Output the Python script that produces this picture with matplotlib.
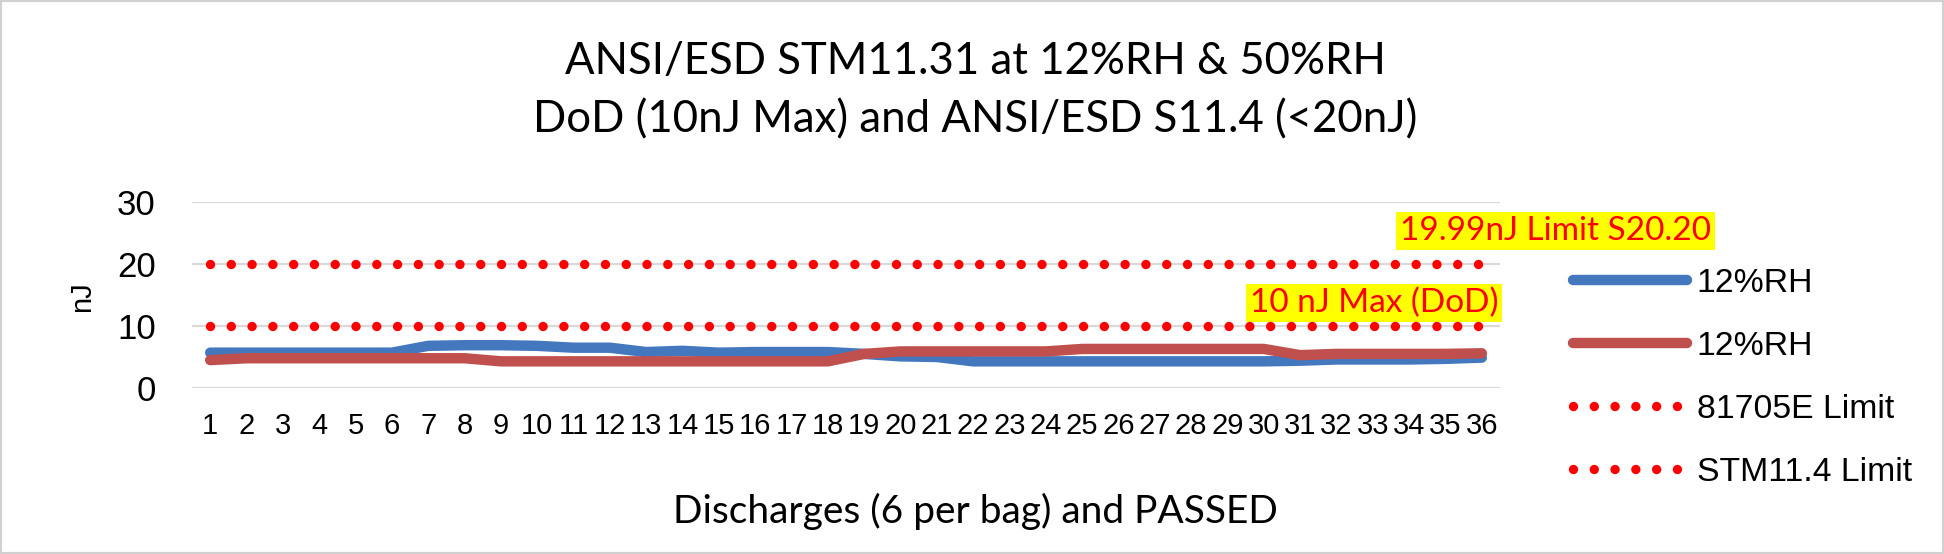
import matplotlib
matplotlib.use("Agg")
import matplotlib.pyplot as plt
from matplotlib.patches import Rectangle

# ────────────────────────────────────────────────
# Data
# ────────────────────────────────────────────────
discharges = list(range(1, 37))

rh_a = [5.7, 5.7, 5.7, 5.7, 5.7, 5.7, 6.8, 6.9, 6.9, 6.8, 6.5, 6.5,
        5.8, 6.0, 5.7, 5.8, 5.8, 5.8, 5.5, 5.1, 5.0, 4.3, 4.3, 4.3,
        4.3, 4.3, 4.3, 4.3, 4.3, 4.3, 4.4, 4.6, 4.6, 4.6, 4.7, 4.9]
rh_b = [4.5, 4.8, 4.8, 4.8, 4.8, 4.8, 4.8, 4.8, 4.3, 4.3, 4.3, 4.3,
        4.3, 4.3, 4.3, 4.3, 4.3, 4.3, 5.5, 5.9, 5.9, 5.9, 5.9, 5.9,
        6.3, 6.3, 6.3, 6.3, 6.3, 6.3, 5.3, 5.5, 5.5, 5.5, 5.5, 5.6]

limit_81705e = 20
limit_stm114 = 10

series_labels = ["12%RH", "12%RH", "81705E Limit", "STM11.4 Limit"]
y_ticks = [0, 10, 20, 30]

title_1 = "ANSI/ESD STM11.31 at 12%RH & 50%RH"
title_2 = "DoD (10nJ Max) and ANSI/ESD S11.4 (<20nJ)"
x_label = "Discharges (6 per bag) and PASSED"
note_20 = "19.99nJ Limit S20.20"
note_10 = "10 nJ Max (DoD)"

# ────────────────────────────────────────────────
# Plotting
# ────────────────────────────────────────────────
W, H = 1944, 554
fig = plt.figure(figsize=(W / 100, H / 100), dpi=100)
ax = fig.add_axes([192 / W, 1 - 388 / H, (1500 - 192) / W, (388 - 202) / H])

arial = "Liberation Sans"
calibri = "Lato"

dots = (0, (0.001, 2.2))

ax.plot(discharges, rh_a, color="#4478BE", lw=7.5, solid_capstyle="round",
        solid_joinstyle="round", label=series_labels[0], zorder=3)
ax.plot(discharges, rh_b, color="#C0504D", lw=7.5, solid_capstyle="round",
        solid_joinstyle="round", label=series_labels[1], zorder=4)
ax.plot(discharges, [limit_81705e] * len(discharges), color="#FF0000",
        lw=6.8, linestyle=dots, dash_capstyle="round", label=series_labels[2], zorder=5)
ax.plot(discharges, [limit_stm114] * len(discharges), color="#FF0000",
        lw=6.8, linestyle=dots, dash_capstyle="round", label=series_labels[3], zorder=5)

ax.set_xlim(0.5, 36.5)
ax.set_ylim(0, 30)
ax.set_yticks(y_ticks)
ax.set_xticks(discharges)
ax.grid(axis="y", color="#D9D9D9", lw=1.6)
ax.set_axisbelow(True)
for s in ax.spines.values():
    s.set_visible(False)
ax.tick_params(axis="y", length=0, pad=26, labelsize=25)
ax.tick_params(axis="x", length=0, pad=17, labelsize=21)
for lab in ax.get_xticklabels() + ax.get_yticklabels():
    lab.set_fontfamily(arial)

# notes on the limit lines
ax.text(33.75, 25.4, note_20, color="#FF0000", fontsize=24, family=calibri,
        va="center", ha="left", zorder=6, clip_on=False,
        bbox=dict(facecolor="#FFFF00", edgecolor="none", pad=3))
ax.text(36.45, 13.7, note_10, color="#FF0000", fontsize=24, family=calibri,
        va="center", ha="right", zorder=2,
        bbox=dict(facecolor="#FFFF00", edgecolor="none", pad=3))

# titles and labels
fig.text(975 / W, 1 - 62 / H, title_1, ha="center", va="center",
         fontsize=31.5, family=calibri)
fig.text(975 / W, 1 - 120 / H, title_2, ha="center", va="center",
         fontsize=31.5, family=calibri)
fig.text(975 / W, 1 - 511 / H, x_label, ha="center", va="center",
         fontsize=28, family=calibri)
fig.text(82 / W, 1 - 297 / H, "nJ", ha="center", va="center",
         rotation=90, fontsize=21, family=arial)

fig.legend(loc="upper left", bbox_to_anchor=(1573 / W, 1 - 268 / H),
           frameon=False, borderpad=0, borderaxespad=0, handlelength=3.37,
           handletextpad=0.3, labelspacing=0.95,
           prop={"family": arial, "size": 24.3})

fig.patches.append(Rectangle((0, 0), 1, 1, transform=fig.transFigure,
                             fill=False, edgecolor="#D0D0D0", lw=3))

fig.savefig("out.png", dpi=100)
